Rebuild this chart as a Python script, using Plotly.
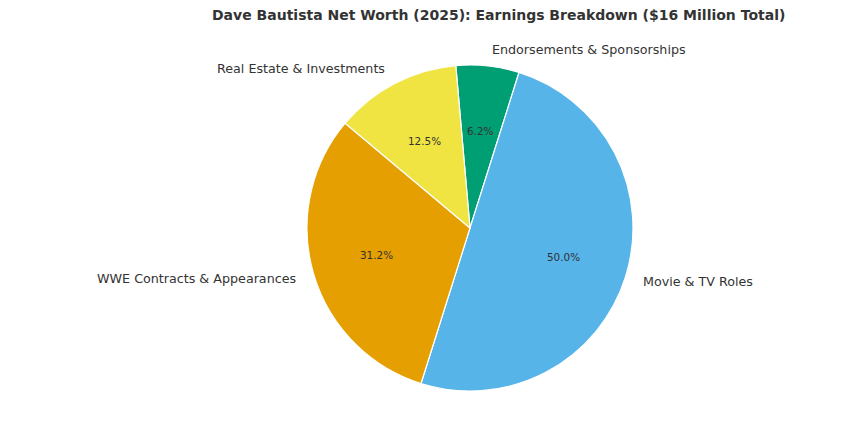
import math
import plotly.graph_objects as go

categories = ["Endorsements & Sponsorships", "Movie & TV Roles", "WWE Contracts & Appearances", "Real Estate & Investments"]
values = [1, 8, 5, 2]  # $ millions
colors = ["#009E73", "#56B4E9", "#E69F00", "#F0E442"]
title_text = "Dave Bautista Net Worth (2025): Earnings Breakdown ($16 Million Total)"

OFF = 8  # page body margin
W, H = 850 - OFF, 440 - OFF
cx, cy, R = 470 - OFF, 228 - OFF, 163
rotation = -5

fig = go.Figure()
fig.add_trace(go.Pie(
    labels=categories, values=values, sort=False, direction="clockwise",
    rotation=rotation, marker=dict(colors=colors, line=dict(color="white", width=1.2)),
    textinfo="none", hoverinfo="label+percent", showlegend=False,
    domain=dict(x=[(cx - R) / W, (cx + R) / W], y=[(H - cy - R) / H, (H - cy + R) / H]),
))

total = sum(values)
cum = 0
annotations = []
for lab, v in zip(categories, values):
    mid = rotation + 360 * (cum + v / 2) / total
    cum += v
    a = math.radians(mid)
    sx, sy = math.sin(a), math.cos(a)
    px, py = cx + 0.6 * R * sx, cy - 0.6 * R * sy
    annotations.append(dict(x=px / W, y=1 - py / H, xref="paper", yref="paper",
                            text=f"{100 * v / total:.1f}%", showarrow=False,
                            font=dict(size=10.4, color="#333333"),
                            xanchor="center", yanchor="middle"))
    lx, ly = cx + 1.1 * R * sx, cy - 1.1 * R * sy
    annotations.append(dict(x=lx / W, y=1 - ly / H, xref="paper", yref="paper",
                            text=lab, showarrow=False,
                            font=dict(size=12.7, color="#333333"),
                            xanchor="left" if sx > 0 else "right", yanchor="middle"))

annotations.append(dict(x=(498 - OFF) / W, y=1.0, xref="paper", yref="paper",
                        text=f"<b>{title_text}</b>", showarrow=False, borderpad=0,
                        font=dict(size=14, color="#333333"),
                        xanchor="center", yanchor="top", yshift=2))

fig.update_layout(
    width=W, height=H, margin=dict(l=0, r=0, t=0, b=0),
    paper_bgcolor="white", plot_bgcolor="white",
    font=dict(family="DejaVu Sans", color="#333333"),
    annotations=annotations,
)
fig.write_html("out.html")
